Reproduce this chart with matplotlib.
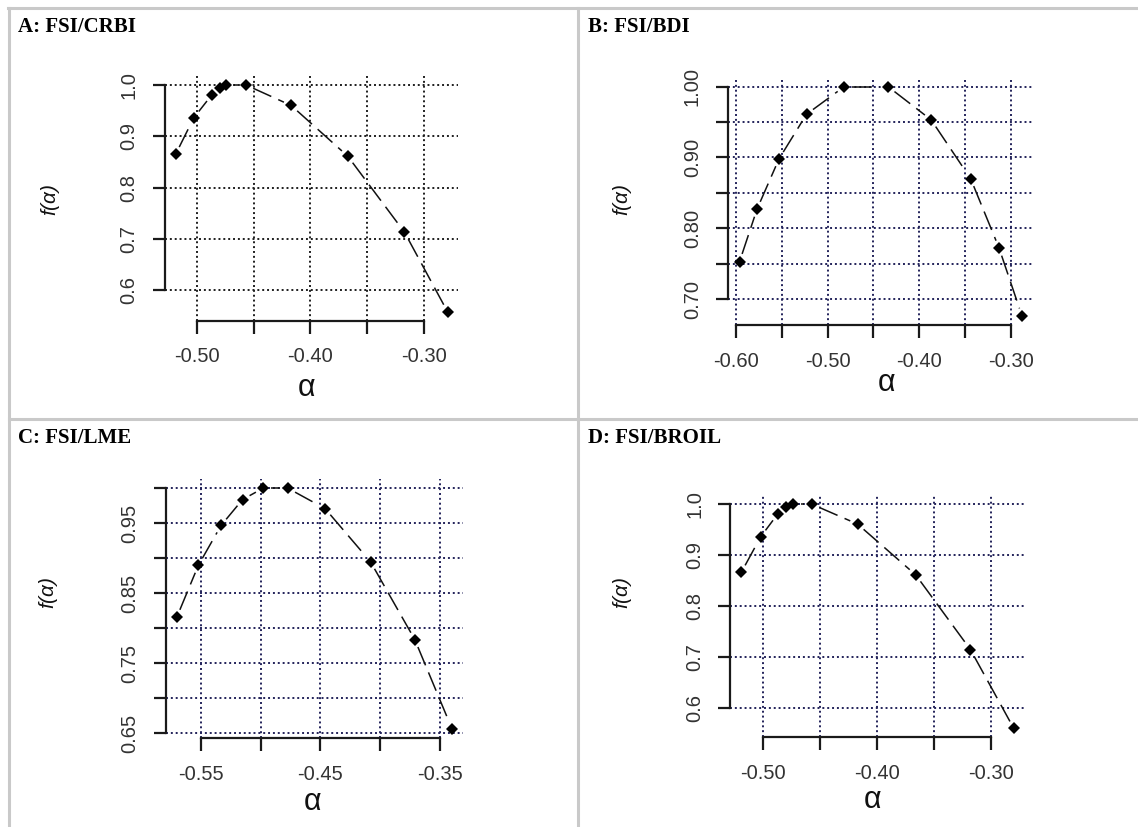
import numpy as np
import matplotlib
matplotlib.use('Agg')
import matplotlib.pyplot as plt
from matplotlib.lines import Line2D

FIG_W, FIG_H = 1138, 827
DPI = 100

TITLES = ['A: FSI/CRBI', 'B: FSI/BDI', 'C: FSI/LME', 'D: FSI/BROIL']

# Panel A: FSI/CRBI
ALPHA_A = [-0.519, -0.503, -0.487, -0.480, -0.475, -0.457, -0.417, -0.367, -0.317, -0.279]
F_A = [0.865, 0.936, 0.981, 0.995, 1.000, 1.000, 0.960, 0.861, 0.713, 0.558]
XTICKS_A = [-0.50, -0.45, -0.40, -0.35, -0.30]
XLABELS_A = ['-0.50', '', '-0.40', '', '-0.30']
YTICKS_A = [0.6, 0.7, 0.8, 0.9, 1.0]
YLABELS_A = ['0.6', '0.7', '0.8', '0.9', '1.0']

# Panel B: FSI/BDI
ALPHA_B = [-0.596, -0.577, -0.553, -0.523, -0.482, -0.434, -0.387, -0.344, -0.313, -0.288]
F_B = [0.753, 0.827, 0.898, 0.961, 1.000, 1.000, 0.953, 0.870, 0.772, 0.676]
XTICKS_B = [-0.60, -0.55, -0.50, -0.45, -0.40, -0.35, -0.30]
XLABELS_B = ['-0.60', '', '-0.50', '', '-0.40', '', '-0.30']
YTICKS_B = [0.70, 0.75, 0.80, 0.85, 0.90, 0.95, 1.00]
YLABELS_B = ['0.70', '', '0.80', '', '0.90', '', '1.00']

# Panel C: FSI/LME
ALPHA_C = [-0.570, -0.552, -0.533, -0.515, -0.498, -0.477, -0.446, -0.408, -0.371, -0.340]
F_C = [0.816, 0.890, 0.947, 0.984, 1.000, 1.000, 0.971, 0.895, 0.784, 0.657]
XTICKS_C = [-0.55, -0.50, -0.45, -0.40, -0.35]
XLABELS_C = ['-0.55', '', '-0.45', '', '-0.35']
YTICKS_C = [0.65, 0.70, 0.75, 0.80, 0.85, 0.90, 0.95, 1.00]
YLABELS_C = ['0.65', '', '0.75', '', '0.85', '', '0.95', '']

# Panel D: FSI/BROIL
ALPHA_D = [-0.519, -0.502, -0.487, -0.480, -0.474, -0.457, -0.417, -0.366, -0.318, -0.280]
F_D = [0.866, 0.936, 0.981, 0.995, 1.000, 1.000, 0.961, 0.861, 0.714, 0.559]
XTICKS_D = XTICKS_A
XLABELS_D = XLABELS_A
YTICKS_D = YTICKS_A
YLABELS_D = YLABELS_A

# Layout in pixels (left, top, right, bottom) of each plot region.
BOXES = [
    (164.8, 75.9, 458.4, 320.8),
    (728.3, 77.5, 1033.3, 325.2),
    (165.8, 478.7, 462.9, 738.2),
    (730.4, 495.3, 1024.7, 737.4),
]
TITLE_POS = [(18, 32), (588, 32), (18, 443), (588, 443)]
YLAB_POS = [(50, 200), (622, 200), (48, 593), (622, 593)]
XLAB_POS = [(307, 388), (887, 383), (313, 802), (873, 800)]
GRID_COLOURS = ['#1e1e1e', '#22225a', '#22225a', '#22225a']


def px_to_fig(x, y):
    return x / FIG_W, 1 - y / FIG_H


def draw_curve(ax, xs, ys, gap_px=8):
    # R's type="b": dashed segments that stop short of each point.
    trans = ax.transData
    inv = trans.inverted()
    pts = trans.transform(np.column_stack([xs, ys]))
    for p0, p1 in zip(pts[:-1], pts[1:]):
        d = p1 - p0
        length = np.hypot(d[0], d[1])
        if length <= 2 * gap_px + 1:
            continue
        u = d / length
        a = inv.transform(p0 + u * gap_px)
        b = inv.transform(p1 - u * gap_px)
        ax.plot([a[0], b[0]], [a[1], b[1]], color='#111111', lw=1.1,
                dashes=(13, 5), dash_capstyle='butt')
    ax.plot(xs, ys, 'D', color='black', markersize=5.8, markeredgewidth=0)


def make_panel(fig, i, xs, ys, xticks, xlabels, yticks, ylabels):
    left, top, right, bottom = BOXES[i]
    ax = fig.add_axes([left / FIG_W, 1 - bottom / FIG_H,
                       (right - left) / FIG_W, (bottom - top) / FIG_H])

    # R default axis range: data range extended by 4% on each side.
    xpad = 0.04 * (max(xs) - min(xs))
    ypad = 0.04 * (max(ys) - min(ys))
    ax.set_xlim(min(xs) - xpad, max(xs) + xpad)
    ax.set_ylim(min(ys) - ypad, max(ys) + ypad)

    ax.set_xticks(xticks)
    ax.set_xticklabels(xlabels)
    ax.set_yticks(yticks)
    ax.set_yticklabels(ylabels, rotation=90, va='center')

    ax.grid(True, color=GRID_COLOURS[i], linestyle=(0, (1, 1.5)), lw=1.4)

    for side in ['top', 'right']:
        ax.spines[side].set_visible(False)
    ax.spines['left'].set_bounds(min(yticks), max(yticks))
    ax.spines['bottom'].set_bounds(min(xticks), max(xticks))
    for side in ['left', 'bottom']:
        ax.spines[side].set_linewidth(1.6)
        ax.spines[side].set_color('#1a1a1a')

    ax.tick_params(direction='out', length=9, width=1.6, color='#1a1a1a',
                   labelsize=14.5, labelcolor='#333333', pad=10)
    for lab in ax.get_xticklabels() + ax.get_yticklabels():
        lab.set_family('Liberation Sans')

    draw_curve(ax, xs, ys)

    tx, ty = px_to_fig(*TITLE_POS[i])
    fig.text(tx, ty, TITLES[i], family='Liberation Serif', weight='bold',
             fontsize=15, ha='left', va='baseline', color='black')
    yx, yy = px_to_fig(*YLAB_POS[i])
    fig.text(yx, yy, r'$f$($\alpha$)', family='Liberation Sans', style='italic',
             fontsize=15, rotation=90, ha='center', va='center', color='#111111')
    xx, xy = px_to_fig(*XLAB_POS[i])
    fig.text(xx, xy, 'α', family='Liberation Sans', fontsize=22,
             ha='center', va='center', color='#111111')
    return ax


def draw_borders(fig):
    colour = '#c9c9c9'
    segs = [
        ((8, 7.5), (FIG_W, 7.5)),
        ((8.5, 7.5), (8.5, FIG_H)),
        ((578.3, 7.5), (578.3, FIG_H)),
        ((8.5, 419.2), (FIG_W, 419.2)),
    ]
    for (x0, y0), (x1, y1) in segs:
        a = px_to_fig(x0, y0)
        b = px_to_fig(x1, y1)
        fig.add_artist(Line2D([a[0], b[0]], [a[1], b[1]], color=colour,
                              lw=2.2, transform=fig.transFigure))


def main():
    plt.rcParams['mathtext.fontset'] = 'custom'
    plt.rcParams['mathtext.it'] = 'Liberation Sans:italic'
    plt.rcParams['mathtext.rm'] = 'Liberation Sans'

    fig = plt.figure(figsize=(FIG_W / DPI, FIG_H / DPI), dpi=DPI)
    fig.patch.set_facecolor('white')

    draw_borders(fig)

    make_panel(fig, 0, ALPHA_A, F_A, XTICKS_A, XLABELS_A, YTICKS_A, YLABELS_A)
    make_panel(fig, 1, ALPHA_B, F_B, XTICKS_B, XLABELS_B, YTICKS_B, YLABELS_B)
    make_panel(fig, 2, ALPHA_C, F_C, XTICKS_C, XLABELS_C, YTICKS_C, YLABELS_C)
    make_panel(fig, 3, ALPHA_D, F_D, XTICKS_D, XLABELS_D, YTICKS_D, YLABELS_D)

    fig.savefig('out.png', dpi=DPI)


if __name__ == '__main__':
    main()
